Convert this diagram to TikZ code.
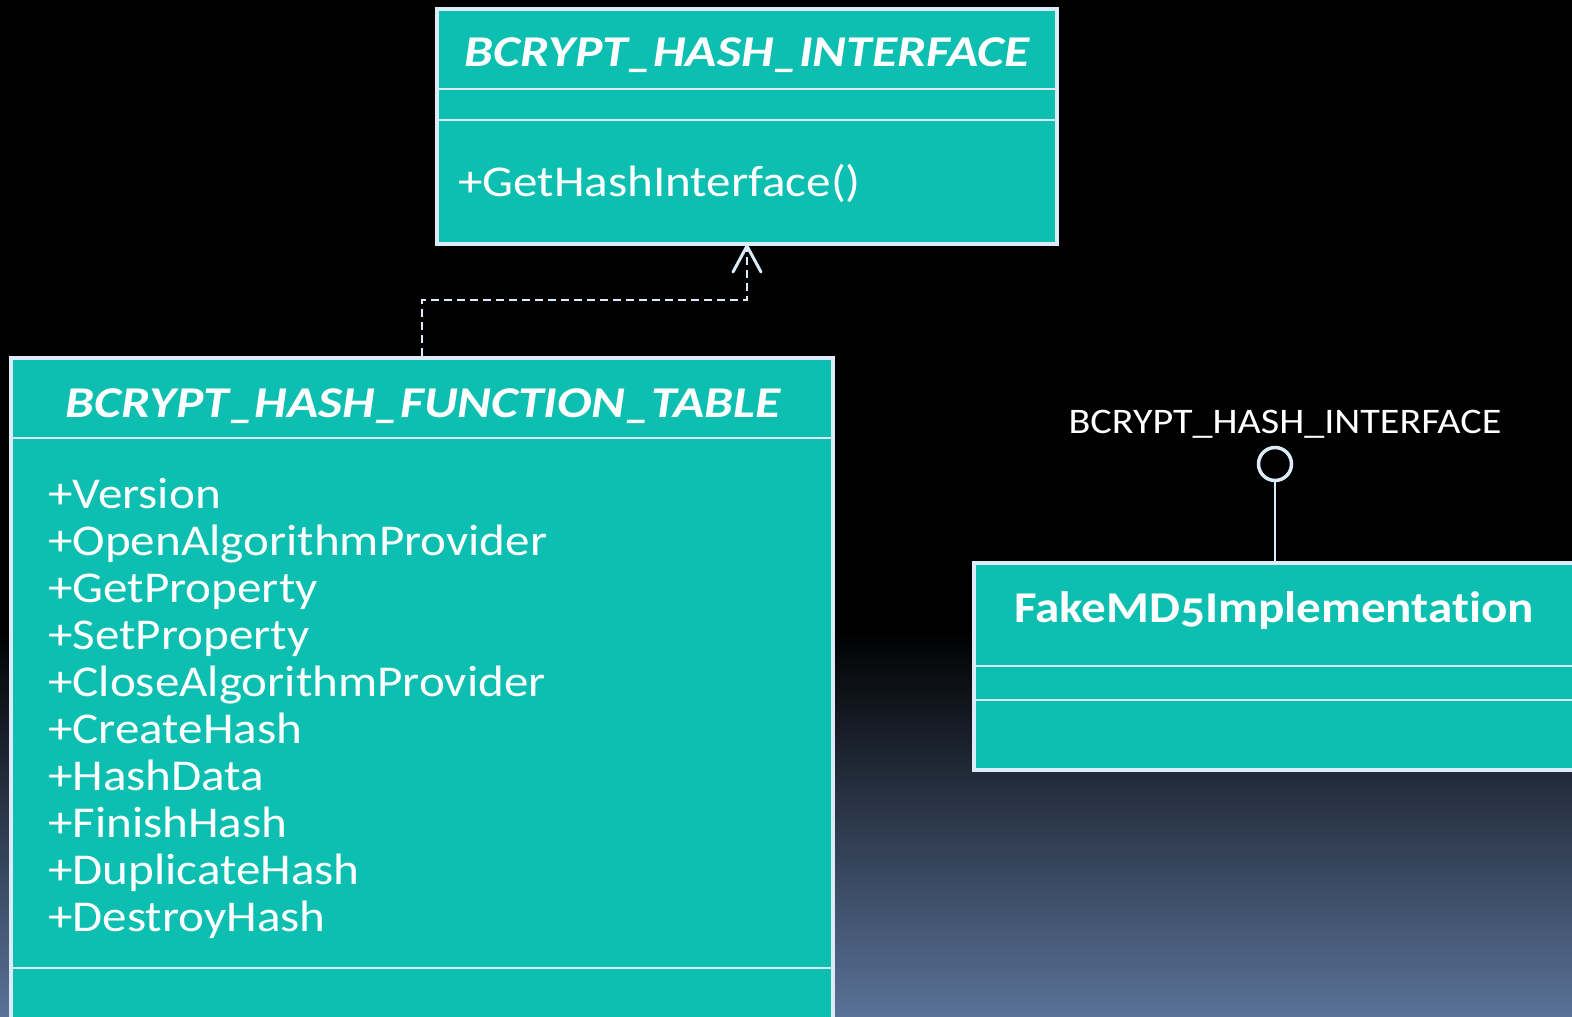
\documentclass[tikz,border=0pt]{standalone}
\usepackage{fontspec}
\setmainfont{Carlito}[Numbers=OldStyle, Ligatures=NoCommon, FakeStretch=1.115]
\newfontfamily\ttlfont{Carlito}[Numbers=OldStyle, Ligatures=NoCommon, FakeStretch=1.17]
\usetikzlibrary{arrows.meta}
\definecolor{teal1}{HTML}{0DBFB0}
\definecolor{edge1}{HTML}{DCEBF7}
\definecolor{bgblue}{HTML}{5A7298}
\tikzset{
  umlbox/.style={draw=edge1, fill=teal1, line width=4pt, rectangle, inner sep=0pt},
  divider/.style={draw=edge1, line width=2.5pt},
  ttl/.style={text=white, font=\fontsize{44}{50}\selectfont\ttlfont\bfseries\itshape, anchor=base, inner sep=0pt},
  plain/.style={text=white, font=\fontsize{44}{50}\selectfont, anchor=base west, inner sep=0pt},
}
\begin{document}
\begin{tikzpicture}[x=1pt,y=-1pt]
\useasboundingbox (0,0) rectangle (1572,1017);
\clip (0,0) rectangle (1572,1017);
\fill[black] (0,0) rectangle (1572,1017);
\shade[top color=black, bottom color=bgblue] (0,630) rectangle (1572,1017);

% BCRYPT_HASH_INTERFACE box
\node[umlbox, minimum width=620pt, minimum height=235pt] (iface) at (747,126.5) {};
\draw[divider] (iface.west |- 0,89) -- (iface.east |- 0,89);
\draw[divider] (iface.west |- 0,120) -- (iface.east |- 0,120);
\node[ttl] (ifacettl) at (747,66) {BCRYPT\_HASH\_INTERFACE};
\node[plain] (ifacem) at (458,196) {+GetHashInterface()};

% BCRYPT_HASH_FUNCTION_TABLE box
\node[umlbox, minimum width=822pt, minimum height=690pt] (table) at (422,703) {};
\draw[divider] (table.west |- 0,438) -- (table.east |- 0,438);
\draw[divider] (table.west |- 0,968) -- (table.east |- 0,968);
\node[ttl] (tablettl) at (423,417) {BCRYPT\_HASH\_FUNCTION\_TABLE};
\foreach \t [count=\i from 0] in {Version,OpenAlgorithmProvider,GetProperty,SetProperty,CloseAlgorithmProvider,CreateHash,HashData,FinishHash,DuplicateHash,DestroyHash}
  \node[plain] (attr\i) at (48,508+47.1*\i) {+\t};

% FakeMD5Implementation box
\node[umlbox, minimum width=640pt, minimum height=207pt] (fake) at (1294,666.5) {};
\draw[divider] (fake.west |- 0,666) -- (fake.east |- 0,666);
\draw[divider] (fake.west |- 0,700) -- (fake.east |- 0,700);
\node[text=white, font=\fontsize{44}{50}\selectfont\bfseries, anchor=base, inner sep=0pt] (fakettl) at (1274,622) {FakeMD5Implementation};

% lollipop
\node[draw=edge1, line width=3.5pt, circle, minimum size=33pt, inner sep=0pt] (lolly) at (1275,464) {};
\node[text=white, font=\fontsize{36}{40}\selectfont, anchor=base, inner sep=0pt] (lollylbl) at (1285,433) {BCRYPT\_HASH\_INTERFACE};
\draw[draw=edge1, line width=2pt] (lolly.south) -- (lolly.south |- fake.north);

% realization connector
\coordinate (bend1) at (422,300);
\coordinate (bend2) at (747,300);
\draw[draw=edge1, line width=2pt, dash pattern=on 8pt off 5pt] (table.north) -- (bend1) -- (bend2) -- (iface.south);
\draw[draw=edge1, line width=3pt, line cap=round, line join=round] (733,272) -- (iface.south) -- (761,272);
\end{tikzpicture}
\end{document}
